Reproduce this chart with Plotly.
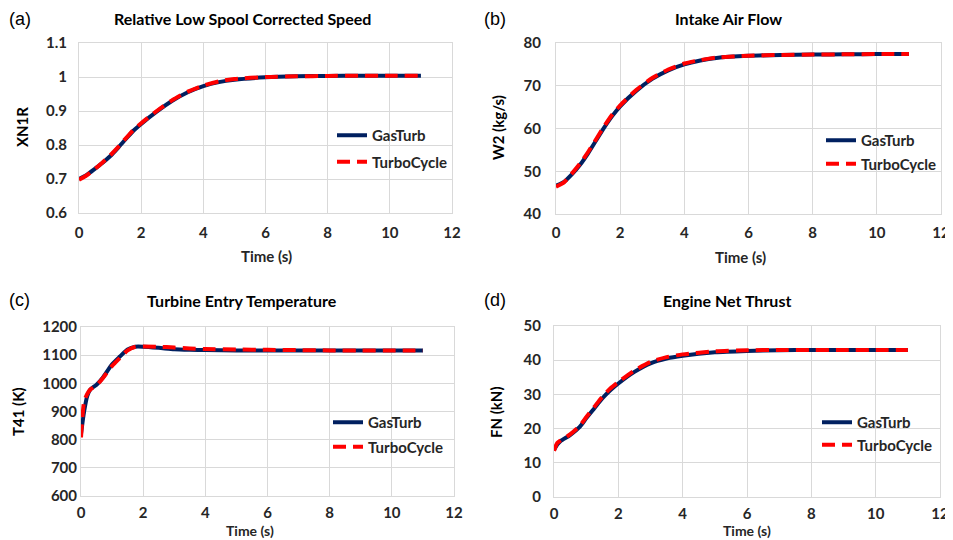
import plotly.graph_objects as go

# page body has an 8px margin; the figure fills the visible window from there
W, H = 945, 532
OFF = 8

# ---- data ----
t_xn = [0, 0.25, 0.5, 0.75, 1.0, 1.25, 1.5, 1.75, 2.0, 2.5, 3.0, 3.5, 4.0, 4.5, 5, 6, 7, 8, 9, 10, 11]
xn_gas = [0.700, 0.712, 0.729, 0.747, 0.767, 0.791, 0.817, 0.842, 0.862, 0.898, 0.930, 0.955, 0.973, 0.985, 0.992, 0.999, 1.002, 1.003, 1.004, 1.004, 1.004]
xn_tc = [0.698, 0.711, 0.729, 0.748, 0.769, 0.793, 0.819, 0.844, 0.864, 0.900, 0.932, 0.957, 0.975, 0.987, 0.994, 1.000, 1.002, 1.003, 1.004, 1.004, 1.004]

t_w2 = [0, 0.25, 0.5, 0.75, 1.0, 1.25, 1.5, 1.75, 2.0, 2.5, 3.0, 3.5, 4.0, 4.5, 5, 6, 7, 8, 9, 10, 11]
w2_gas = [46.6, 47.5, 49.3, 51.5, 54.2, 57.2, 60.2, 62.9, 65.2, 68.8, 71.6, 73.6, 75.0, 75.9, 76.5, 77.0, 77.2, 77.3, 77.35, 77.4, 77.4]
w2_tc = [46.4, 47.4, 49.5, 51.8, 54.5, 57.5, 60.5, 63.2, 65.4, 69.0, 71.8, 73.8, 75.2, 76.0, 76.6, 77.0, 77.2, 77.3, 77.35, 77.4, 77.4]

t_t41 = [0, 0.1, 0.2, 0.3, 0.5, 0.7, 1.0, 1.25, 1.5, 1.75, 2.0, 2.5, 3.0, 3.5, 4, 5, 6, 7, 8, 9, 10, 11]
t41_gas = [820, 900, 955, 978, 995, 1020, 1068, 1095, 1120, 1130, 1130, 1126, 1121, 1119, 1118, 1117, 1117, 1117, 1117, 1117, 1117, 1117]
t41_tc = [808, 935, 962, 978, 993, 1018, 1062, 1090, 1117, 1130, 1131, 1130, 1127, 1124, 1122, 1120, 1119, 1118, 1117, 1117, 1117, 1117]

t_fn = [0, 0.1, 0.2, 0.5, 0.8, 1.0, 1.25, 1.5, 1.75, 2.0, 2.5, 3.0, 3.5, 4, 5, 6, 7, 8, 9, 10, 11]
fn_gas = [13.7, 15.3, 16.3, 18.1, 20.5, 23.0, 25.9, 28.8, 31.2, 33.2, 36.6, 39.1, 40.5, 41.3, 42.3, 42.7, 42.9, 43.0, 43.0, 43.0, 43.0]
fn_tc = [13.5, 15.8, 16.5, 18.3, 20.8, 23.3, 26.3, 29.3, 31.7, 33.6, 37.0, 39.5, 40.9, 41.7, 42.6, 42.9, 43.0, 43.0, 43.0, 43.0, 43.0]

titles = ["Relative Low Spool Corrected Speed", "Intake Air Flow", "Turbine Entry Temperature", "Engine Net Thrust"]
ytitles = ["XN1R", "W2 (kg/s)", "T41 (K)", "FN (kN)"]
labels = ["(a)", "(b)", "(c)", "(d)"]
xticks = [0, 2, 4, 6, 8, 10, 12]
series_names = ["GasTurb", "TurboCycle"]


def fx(X):
    return (X - OFF) / W


def fy(Y):
    return 1 - (Y - OFF) / H


panels = [
    dict(t=t_xn, g=xn_gas, c=xn_tc, yr=[0.6, 1.1], dt=0.1, px=(79, 452), py=(43, 213)),
    dict(t=t_w2, g=w2_gas, c=w2_tc, yr=[40, 80], dt=10, px=(556, 941), py=(43, 214)),
    dict(t=t_t41, g=t41_gas, c=t41_tc, yr=[600, 1200], dt=100, px=(81, 454), py=(327, 496)),
    dict(t=t_fn, g=fn_gas, c=fn_tc, yr=[0, 50], dt=10, px=(554, 940), py=(326, 497)),
]
# layout positions in reference pixels
title_pos = [(242, None), (728, None), (242, 300), (727, 300)]
label_pos = [(8, None), (483, None), (8, 300), (483, 300)]
ytitle_pos = [(22, 127), (498, 128), (18, 412), (496, 412)]
xtitle_pos = [(266, 256), (740, 257), (250, None), (747, None)]
xtitle_size = [15, 15, 14, 14]
legend_pos = [(332, 119), (821, 124), (328, 406), (817, 406)]
legend_gap = [4, 1, 2, 0]
ytick_len = [8, 11, 0, 9]
xtick_len = [6, 5, 3, 3]

NAVY = "#002060"
RED = "#FF0000"
GRID = "#D9D9D9"
FONT = "Lato"
TXT = "#262626"

fig = go.Figure()
annotations = []
for i, p in enumerate(panels):
    n = "" if i == 0 else str(i + 1)
    leg = "legend" if i == 0 else f"legend{i+1}"
    fig.add_trace(go.Scatter(x=p["t"], y=p["g"], mode="lines", name=series_names[0],
                             legendgroup=f"g{i}a",
                             line=dict(color=NAVY, width=4, shape="spline", smoothing=0.6),
                             xaxis="x" + n, yaxis="y" + n, legend=leg))
    fig.add_trace(go.Scatter(x=p["t"], y=p["c"], mode="lines", name=series_names[1],
                             legendgroup=f"g{i}b",
                             line=dict(color=RED, width=4, dash="13px,7px", shape="spline", smoothing=0.6),
                             xaxis="x" + n, yaxis="y" + n, legend=leg))
    tf = dict(family=FONT, size=15, color=TXT, weight="bold")
    ax = dict(domain=[fx(p["px"][0]), fx(p["px"][1])], range=[0, 12], tickvals=xticks,
              showgrid=True, gridcolor=GRID, gridwidth=1, zeroline=False,
              showline=True, linecolor=GRID, mirror=True,
              ticks="outside", ticklen=xtick_len[i], tickcolor="rgba(0,0,0,0)",
              ticklabeloverflow="allow",
              tickfont=tf, anchor="y" + n, automargin=False)
    ay = dict(domain=[fy(p["py"][1]), fy(p["py"][0])], range=p["yr"], dtick=p["dt"],
              tick0=p["yr"][0], showgrid=True, gridcolor=GRID, gridwidth=1, zeroline=False,
              showline=True, linecolor=GRID, mirror=True,
              ticks="outside" if ytick_len[i] else "", ticklen=max(ytick_len[i], 1),
              tickcolor="rgba(0,0,0,0)",
              tickfont=tf, anchor="x" + n, automargin=False)
    fig.update_layout(**{("xaxis" + n): ax, ("yaxis" + n): ay})
    lx, ly = legend_pos[i]
    fig.update_layout(**{leg: dict(x=fx(lx), y=fy(ly), xanchor="left", yanchor="top",
                                  bgcolor="rgba(0,0,0,0)", tracegroupgap=legend_gap[i],
                                  font=dict(family=FONT, size=15, color=TXT, weight="bold"))})
    tx, ty = title_pos[i]
    annotations.append(dict(text=titles[i], x=fx(tx), y=1 if ty is None else fy(ty),
                            xref="paper", yref="paper", borderpad=0,
                            showarrow=False, xanchor="center", yanchor="top" if ty is None else "middle",
                            font=dict(family=FONT, size=16, color="#000000", weight="bold")))
    lx2, ly2 = label_pos[i]
    annotations.append(dict(text=labels[i], x=fx(lx2), y=1 if ly2 is None else fy(ly2),
                            xref="paper", yref="paper", borderpad=0,
                            showarrow=False, xanchor="left", yanchor="top" if ly2 is None else "middle",
                            font=dict(family="Liberation Sans", size=18, color="#000000")))
    yx, yy = ytitle_pos[i]
    annotations.append(dict(text=ytitles[i], x=fx(yx), y=fy(yy), xref="paper", yref="paper",
                            showarrow=False, xanchor="center", yanchor="middle", textangle=-90,
                            font=dict(family=FONT, size=15, color="#000000", weight="bold")))
    xx, xy = xtitle_pos[i]
    annotations.append(dict(text="Time (s)", x=fx(xx), y=0 if xy is None else fy(xy),
                            xref="paper", yref="paper", borderpad=0,
                            showarrow=False, xanchor="center", yanchor="bottom" if xy is None else "middle",
                            font=dict(family=FONT, size=xtitle_size[i], color=TXT, weight="bold")))

fig.update_layout(width=W, height=H, margin=dict(l=0, r=0, t=0, b=0, autoexpand=False),
                  paper_bgcolor="white", plot_bgcolor="white",
                  annotations=annotations, showlegend=True)
fig.write_html("out.html")
